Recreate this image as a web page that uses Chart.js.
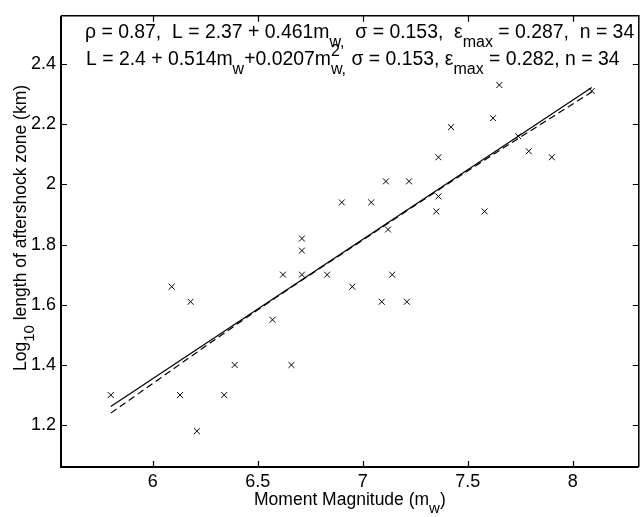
<!DOCTYPE html>
<html>
<head>
<meta charset="utf-8">
<script src="https://cdn.jsdelivr.net/npm/chart.js@4/dist/chart.umd.min.js"></script>
<style>
  html, body { margin: 0; padding: 0; background: #fff; }
  #wrap { width: 644px; height: 517px; }
</style>
</head>
<body>
<div id="wrap"><canvas id="aftershockChart"></canvas></div>
<script>
const magnitude = [5.8, 6.09, 6.18, 6.13, 6.21, 6.39, 6.34, 6.57, 6.62, 6.71, 6.66, 6.83,
  6.95, 6.71, 6.71, 6.9, 7.04, 7.11, 7.22, 7.12, 7.35, 7.36, 7.36, 7.42, 7.58, 7.62,
  7.65, 7.74, 7.79, 7.9, 8.09, 7.14, 7.09, 7.21];
const logLength = [1.30, 1.66, 1.61, 1.30, 1.18, 1.40, 1.30, 1.55, 1.70, 1.70, 1.40, 1.70,
  1.66, 1.82, 1.78, 1.94, 1.94, 2.01, 2.01, 1.85, 1.91, 1.96, 2.09, 2.19, 1.91, 2.22,
  2.33, 2.16, 2.11, 2.09, 2.31, 1.70, 1.61, 1.61];

// fitted curves
const linMag = [5.8, 8.09];
const linFit = [1.262, 2.322];
const quadMag = [5.8, 6.5, 7.0, 7.5, 8.09];
const quadFit = [1.24, 1.583, 1.815, 2.045, 2.307];

const xTicks = [6, 6.5, 7, 7.5, 8];
const yTicks = [1.2, 1.4, 1.6, 1.8, 2, 2.2, 2.4];

const FONT = '"Liberation Sans", Arial, sans-serif';
const NOTE_SIZE = 19.4;
const TICK_SIZE = 18;
const TITLE_SIZE = 17.5;

// rich text: [text, kind, extra]  kind: undefined | 'sub' | 'sup' | 'both'
function richWidth(ctx, parts, size) {
  let w = 0;
  parts.forEach(([t, kind, sup]) => {
    if (!kind) {
      ctx.font = size + 'px ' + FONT;
      w += ctx.measureText(t).width;
    } else {
      ctx.font = Math.round(size * 0.85) + 'px ' + FONT;
      let a = ctx.measureText(t).width;
      if (kind === 'both') a = Math.max(a, ctx.measureText(sup).width);
      w += a;
    }
  });
  return w;
}

function drawRich(ctx, parts, x, y, size) {
  let cx = x;
  parts.forEach(([t, kind, sup]) => {
    if (!kind) {
      ctx.font = size + 'px ' + FONT;
      ctx.fillText(t, cx, y);
      cx += ctx.measureText(t).width;
      return;
    }
    ctx.font = Math.round(size * 0.85) + 'px ' + FONT;
    let w = ctx.measureText(t).width;
    if (kind === 'sub' || kind === 'both') ctx.fillText(t, cx, y + size * 0.45);
    if (kind === 'sup') ctx.fillText(t, cx, y - size * 0.45);
    if (kind === 'both') {
      ctx.fillText(sup, cx, y - size * 0.45);
      w = Math.max(w, ctx.measureText(sup).width);
    }
    cx += w;
  });
}

const line1 = [['ρ = 0.87,  L = 2.37 + 0.461m'], ['w,', 'sub'], ['  σ = 0.153,  ε'], ['max', 'sub'],
  [' = 0.287,  n = 34']];
const line2 = [['L = 2.4 + 0.514m'], ['w', 'sub'], ['+0.0207m'], ['w,', 'both', '2'],
  [' σ = 0.153, ε'], ['max', 'sub'], [' = 0.282, n = 34']];
const xTitle = [['Moment Magnitude (m'], ['w', 'sub'], [')']];
const yTitle = [['Log'], ['10', 'sub'], [' length of aftershock zone (km)']];

const frame = {
  id: 'frame',
  afterDatasetsDraw(chart) {
    const { ctx, chartArea: a, scales } = chart;
    ctx.save();
    ctx.strokeStyle = '#000';
    ctx.lineWidth = 1.2;
    ctx.beginPath();
    xTicks.forEach(v => {
      const p = Math.round(scales.x.getPixelForValue(v)) + 0.5;
      ctx.moveTo(p, a.bottom); ctx.lineTo(p, a.bottom - 6);
      ctx.moveTo(p, a.top); ctx.lineTo(p, a.top + 6);
    });
    yTicks.forEach(v => {
      const p = Math.round(scales.y.getPixelForValue(v)) + 0.5;
      ctx.moveTo(a.left, p); ctx.lineTo(a.left + 6, p);
      ctx.moveTo(a.right, p); ctx.lineTo(a.right - 6, p);
    });
    ctx.stroke();

    ctx.lineWidth = 1.5;
    ctx.beginPath();
    ctx.moveTo(a.left, a.top); ctx.lineTo(a.right, a.top); ctx.lineTo(a.right, a.bottom);
    ctx.stroke();
    ctx.lineWidth = 2;
    ctx.beginPath();
    ctx.moveTo(a.left, a.top); ctx.lineTo(a.left, a.bottom); ctx.lineTo(a.right, a.bottom);
    ctx.stroke();

    ctx.fillStyle = '#000';
    ctx.textBaseline = 'alphabetic';
    ctx.textAlign = 'left';
    drawRich(ctx, line1, 85, 38, NOTE_SIZE);
    drawRich(ctx, line2, 86, 65, NOTE_SIZE);

    const cx = (a.left + a.right) / 2;
    drawRich(ctx, xTitle, cx - richWidth(ctx, xTitle, TITLE_SIZE) / 2, 505, TITLE_SIZE);

    ctx.translate(26, 228);
    ctx.rotate(-Math.PI / 2);
    drawRich(ctx, yTitle, -richWidth(ctx, yTitle, TITLE_SIZE) / 2, 0, TITLE_SIZE);
    ctx.restore();
  }
};

new Chart(document.getElementById('aftershockChart'), {
  type: 'scatter',
  data: {
    datasets: [{
      label: 'events',
      data: magnitude.map((m, i) => ({ x: m, y: logLength[i] })),
      pointStyle: 'crossRot',
      pointRadius: 4.2,
      borderColor: '#000',
      borderWidth: 1,
      backgroundColor: '#000'
    }, {
      label: 'linear fit',
      data: linMag.map((m, i) => ({ x: m, y: linFit[i] })),
      showLine: true,
      borderColor: '#000',
      borderWidth: 1.2,
      pointRadius: 0
    }, {
      label: 'quadratic fit',
      data: quadMag.map((m, i) => ({ x: m, y: quadFit[i] })),
      showLine: true,
      cubicInterpolationMode: 'monotone',
      borderColor: '#000',
      borderWidth: 1.2,
      borderDash: [7, 4],
      pointRadius: 0
    }]
  },
  options: {
    responsive: true,
    maintainAspectRatio: false,
    animation: false,
    layout: { padding: { top: 10, right: 4, left: 0, bottom: 0 } },
    plugins: { legend: { display: false }, tooltip: { enabled: false } },
    scales: {
      x: {
        type: 'linear',
        min: 5.563,
        max: 8.314,
        afterBuildTicks: s => { s.ticks = xTicks.map(v => ({ value: v })); },
        afterFit: s => { s.height = 50; },
        grid: { display: false, drawTicks: false },
        border: { display: false },
        ticks: { color: '#000', padding: 4, font: { family: FONT, size: TICK_SIZE }, callback: v => String(v) }
      },
      y: {
        type: 'linear',
        min: 1.061,
        max: 2.56,
        afterBuildTicks: s => { s.ticks = yTicks.map(v => ({ value: v })); },
        afterFit: s => { s.width = 61; },
        grid: { display: false, drawTicks: false },
        border: { display: false },
        ticks: { color: '#000', padding: 5, font: { family: FONT, size: TICK_SIZE }, callback: v => String(v) }
      }
    }
  },
  plugins: [frame]
});
</script>
</body>
</html>
